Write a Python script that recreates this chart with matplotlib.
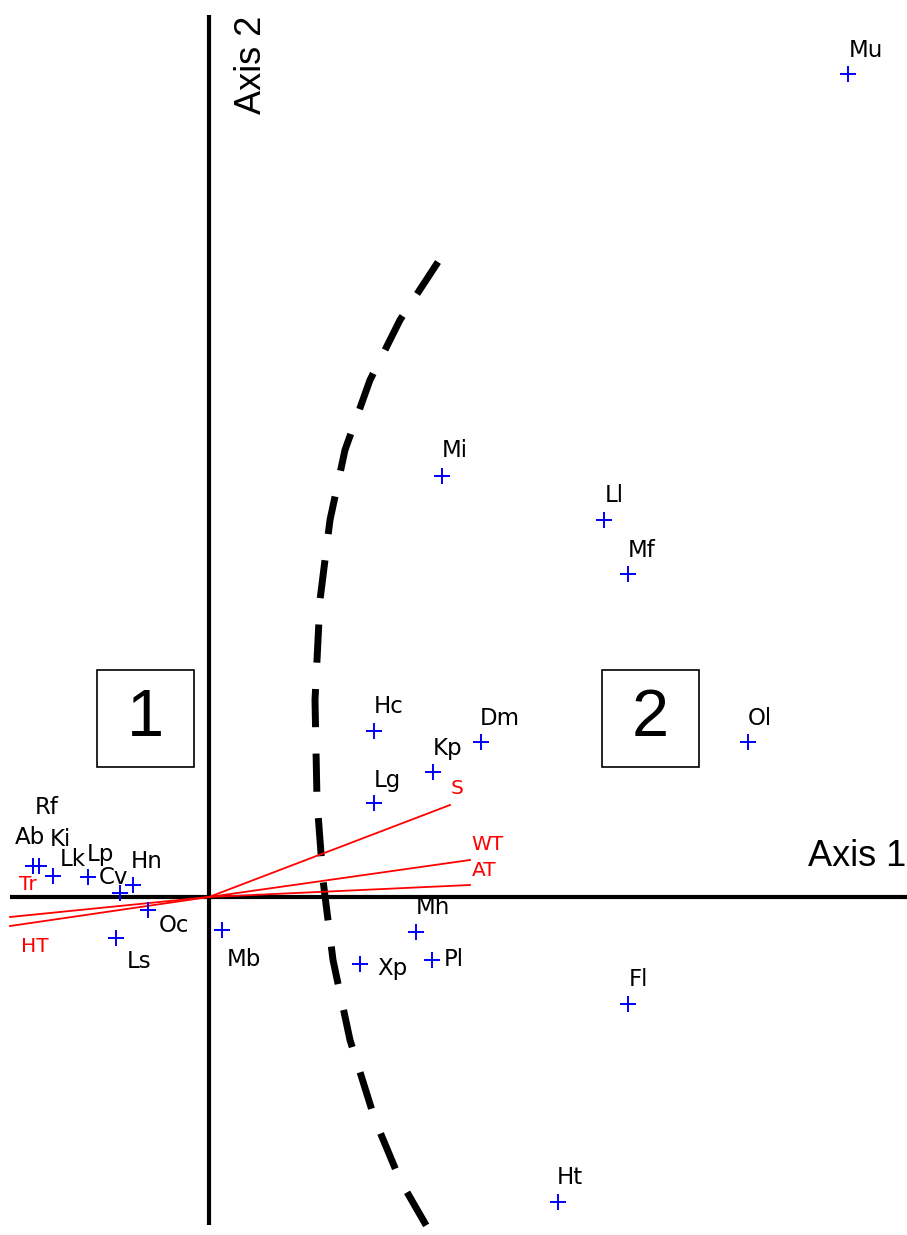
import matplotlib.pyplot as plt
from matplotlib.patches import Rectangle
import numpy as np

# species scores (axis 1, axis 2)
species = ["Mu", "Mi", "Ll", "Mf", "Hc", "Dm", "Kp", "Lg", "Ol", "Mh", "Pl", "Xp",
           "Fl", "Ht", "Mb", "Oc", "Ls", "Ab", "Rf", "Ki", "Lk", "Lp", "Cv", "Hn"]
ax1 = [6.39, 2.33, 3.95, 4.19, 1.65, 2.72, 2.24, 1.65, 5.39, 2.07, 2.23, 1.51,
       4.19, 3.49, 0.13, -0.61, -0.93, -1.76, -1.76, -1.70, -1.56, -1.21, -0.89, -0.76]
ax2 = [8.23, 4.21, 3.77, 3.23, 1.66, 1.55, 1.25, 0.94, 1.55, -0.35, -0.63, -0.67,
       -1.07, -3.05, -0.33, -0.13, -0.41, 0.31, 0.31, 0.31, 0.21, 0.20, 0.04, 0.12]

# environmental vectors
env = ["S", "WT", "AT", "Tr", "HT"]
env1 = [2.41, 2.61, 2.61, -1.99, -1.99]
env2 = [0.92, 0.37, 0.12, -0.20, -0.29]

# boundary between group 1 and group 2
curve1 = [2.29, 1.91, 1.61, 1.36, 1.21, 1.11, 1.06, 1.08, 1.14, 1.24, 1.41, 1.66, 1.91, 2.21]
curve2 = [6.35, 5.77, 5.17, 4.47, 3.77, 2.97, 1.97, 0.97, 0.17, -0.63, -1.43, -2.23, -2.83, -3.35]

# label offsets in pixels (dx, dy)
offs = {"Mu": (18, 24), "Mi": (13, 26), "Ll": (10, 25), "Mf": (14, 24), "Hc": (15, 25),
        "Dm": (19, 24), "Kp": (15, 24), "Lg": (13, 23), "Ol": (12, 24), "Mh": (17, 24),
        "Pl": (22, 0), "Xp": (32, -5), "Fl": (10, 24), "Ht": (12, 24), "Mb": (22, -30),
        "Oc": (26, -16), "Ls": (23, -23), "Ab": (-3, 28), "Rf": (14, 58), "Ki": (21, 26),
        "Lk": (20, 16), "Lp": (12, 23), "Cv": (-7, 16), "Hn": (14, 23)}
env_offs = {"S": (7, 17), "WT": (17, 15), "AT": (14, 15), "Tr": (18, 32), "HT": (25, -20)}

fig = plt.figure(figsize=(9.07, 12.35), dpi=100)
ax = fig.add_axes([0, 0, 1, 1])
ax.set_xlim(-2.09, 6.98)
ax.set_ylim(-3.38, 8.97)
ax.axis("off")

# ordination axes
ax.plot([-1.99, 6.98], [0, 0], color="black", lw=3, solid_capstyle="butt")
ax.plot([0, 0], [-3.28, 8.82], color="black", lw=3, solid_capstyle="butt")
ax.text(6.48, 0.40, "Axis 1", family="Liberation Sans", fontsize=26, ha="center", va="center")
ax.text(0.43, 8.32, "Axis 2", family="Liberation Sans", fontsize=26, ha="center", va="center",
        rotation=90)

# dashed group boundary
ax.plot(curve1, curve2, color="black", lw=5, linestyle=(0, (5.5, 3.8)), dash_capstyle="butt")

# env vectors
for name, x, y in zip(env, env1, env2):
    ax.plot([0, x], [0, y], color="red", lw=1.3)
    dx, dy = env_offs[name]
    ax.annotate(name, (x, y), xytext=(dx, dy), textcoords="offset pixels", color="red",
                fontsize=14.5, ha="center", va="center")

# species
ax.plot(ax1, ax2, linestyle="none", marker="+", color="blue", ms=12, mew=1.4)
for name, x, y in zip(species, ax1, ax2):
    dx, dy = offs[name]
    ax.annotate(name, (x, y), xytext=(dx, dy), textcoords="offset pixels", color="black",
                fontsize=16.5, ha="center", va="center")

# group boxes
for label, x0 in [("1", -1.12), ("2", 3.93)]:
    ax.add_patch(Rectangle((x0, 1.30), 0.97, 0.97, fill=False, ec="black", lw=1.2))
    ax.text(x0 + 0.485, 1.785, label, family="Liberation Sans", fontsize=48,
            ha="center", va="center")

fig.savefig("out.png", dpi=100)
